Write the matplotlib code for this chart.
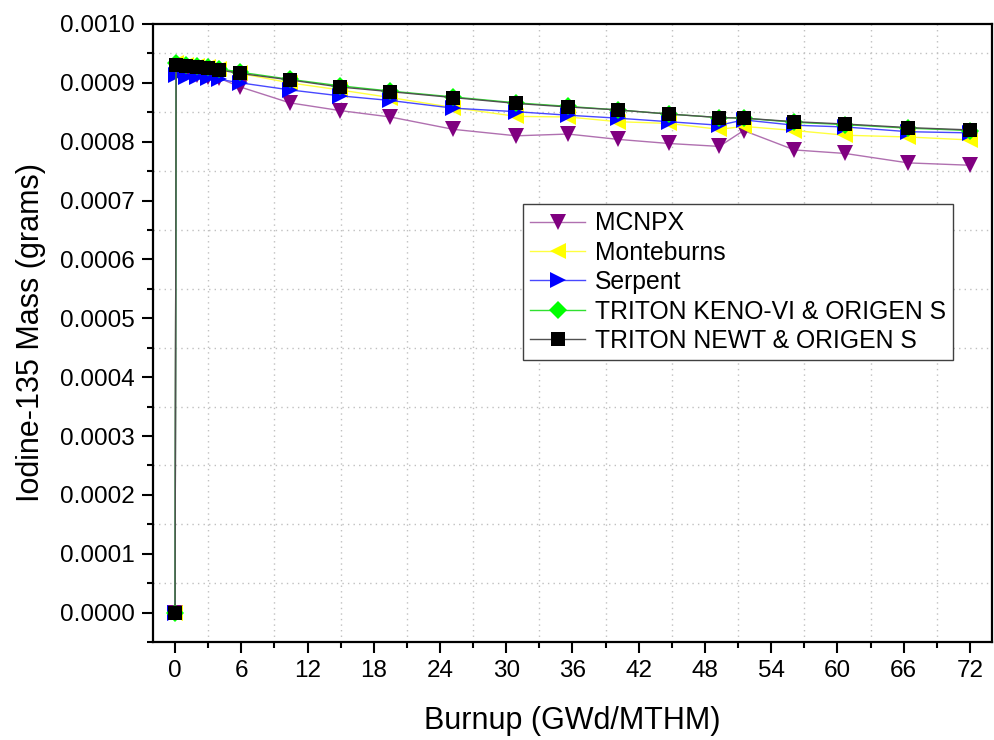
import matplotlib
matplotlib.use("Agg")
import matplotlib.pyplot as plt
from matplotlib.ticker import MultipleLocator, FormatStrFormatter

plt.rcParams['font.family'] = ['Liberation Sans', 'DejaVu Sans']

burnup = [0, 0.1, 1, 2, 3, 4, 5.9, 10.4, 14.9, 19.5, 25.2, 30.9, 35.6, 40.1,
          44.7, 49.3, 51.5, 56.1, 60.7, 66.4, 72]

mcnpx = [0, 9.22, 9.16, 9.13, 9.10, 9.08, 8.93, 8.66, 8.53, 8.42, 8.21, 8.10,
         8.13, 8.04, 7.97, 7.92, 8.19, 7.86, 7.80, 7.64, 7.60]
monteburns = [0, 9.33, 9.31, 9.29, 9.27, 9.24, 9.16, 9.00, 8.88, 8.75, 8.58,
              8.43, 8.42, 8.34, 8.31, 8.21, 8.26, 8.19, 8.11, 8.08, 8.03]
serpent = [0, 9.13, 9.10, 9.10, 9.08, 9.06, 9.00, 8.88, 8.78, 8.70, 8.57, 8.51,
           8.45, 8.40, 8.34, 8.28, 8.37, 8.28, 8.25, 8.17, 8.15]
keno = [0, 9.33, 9.31, 9.29, 9.27, 9.24, 9.18, 9.06, 8.95, 8.86, 8.76, 8.66,
        8.60, 8.54, 8.47, 8.41, 8.40, 8.33, 8.29, 8.23, 8.19]
newt = [0, 9.30, 9.28, 9.27, 9.25, 9.22, 9.16, 9.05, 8.93, 8.85, 8.75, 8.65,
        8.59, 8.54, 8.47, 8.41, 8.40, 8.34, 8.30, 8.24, 8.20]

scale = 1e-4

series = [
    ("MCNPX", mcnpx, 'v', '#800080', '#B070B0', 12),
    ("Monteburns", monteburns, '<', '#FFFF00', '#FFFF40', 12),
    ("Serpent", serpent, '>', '#0000FF', '#4848FF', 12),
    ("TRITON KENO-VI & ORIGEN S", keno, 'D', '#00FF00', '#30E030', 9),
    ("TRITON NEWT & ORIGEN S", newt, 's', '#000000', '#505050', 9.5),
]

fig = plt.figure(figsize=(9.94, 7.4), dpi=100)
ax = fig.add_axes([0.1539, 0.1324, 0.8441, 0.8352])

for name, vals, mk, mc, lc, ms in series:
    ax.plot(burnup, [v * scale for v in vals], color=lc, lw=1.0,
            marker=mk, markersize=ms, markerfacecolor=mc,
            markeredgecolor=mc, markeredgewidth=0, label=name)

ax.set_xlim(-2, 74)
ax.set_ylim(-0.00005, 0.001)
ax.xaxis.set_major_locator(MultipleLocator(6))
ax.xaxis.set_minor_locator(MultipleLocator(3))
ax.yaxis.set_major_locator(MultipleLocator(0.0001))
ax.yaxis.set_minor_locator(MultipleLocator(0.00005))
ax.yaxis.set_major_formatter(FormatStrFormatter('%.4f'))

ax.grid(which='minor', linestyle=(0, (1, 3)), color='#c0c0c0', lw=1.0)
ax.grid(which='major', visible=False)

for s in ax.spines.values():
    s.set_linewidth(1.6)

ax.tick_params(which='major', direction='out', length=8, width=1.5,
               labelsize=17.5, pad=5)
ax.tick_params(which='minor', direction='out', length=4, width=1.5)

ax.set_xlabel("Burnup (GWd/MTHM)", fontsize=22, labelpad=17)
ax.set_ylabel("Iodine-135 Mass (grams)", fontsize=22, labelpad=10)

leg = ax.legend(loc='upper left', bbox_to_anchor=(0.441, 0.709),
                fontsize=17.8, frameon=True, fancybox=False,
                edgecolor='#404040', framealpha=1, borderpad=0.3,
                labelspacing=0.22, handlelength=2.2, handletextpad=0.4,
                borderaxespad=0)
leg.get_frame().set_linewidth(1.0)

fig.savefig("out.png", dpi=100)
